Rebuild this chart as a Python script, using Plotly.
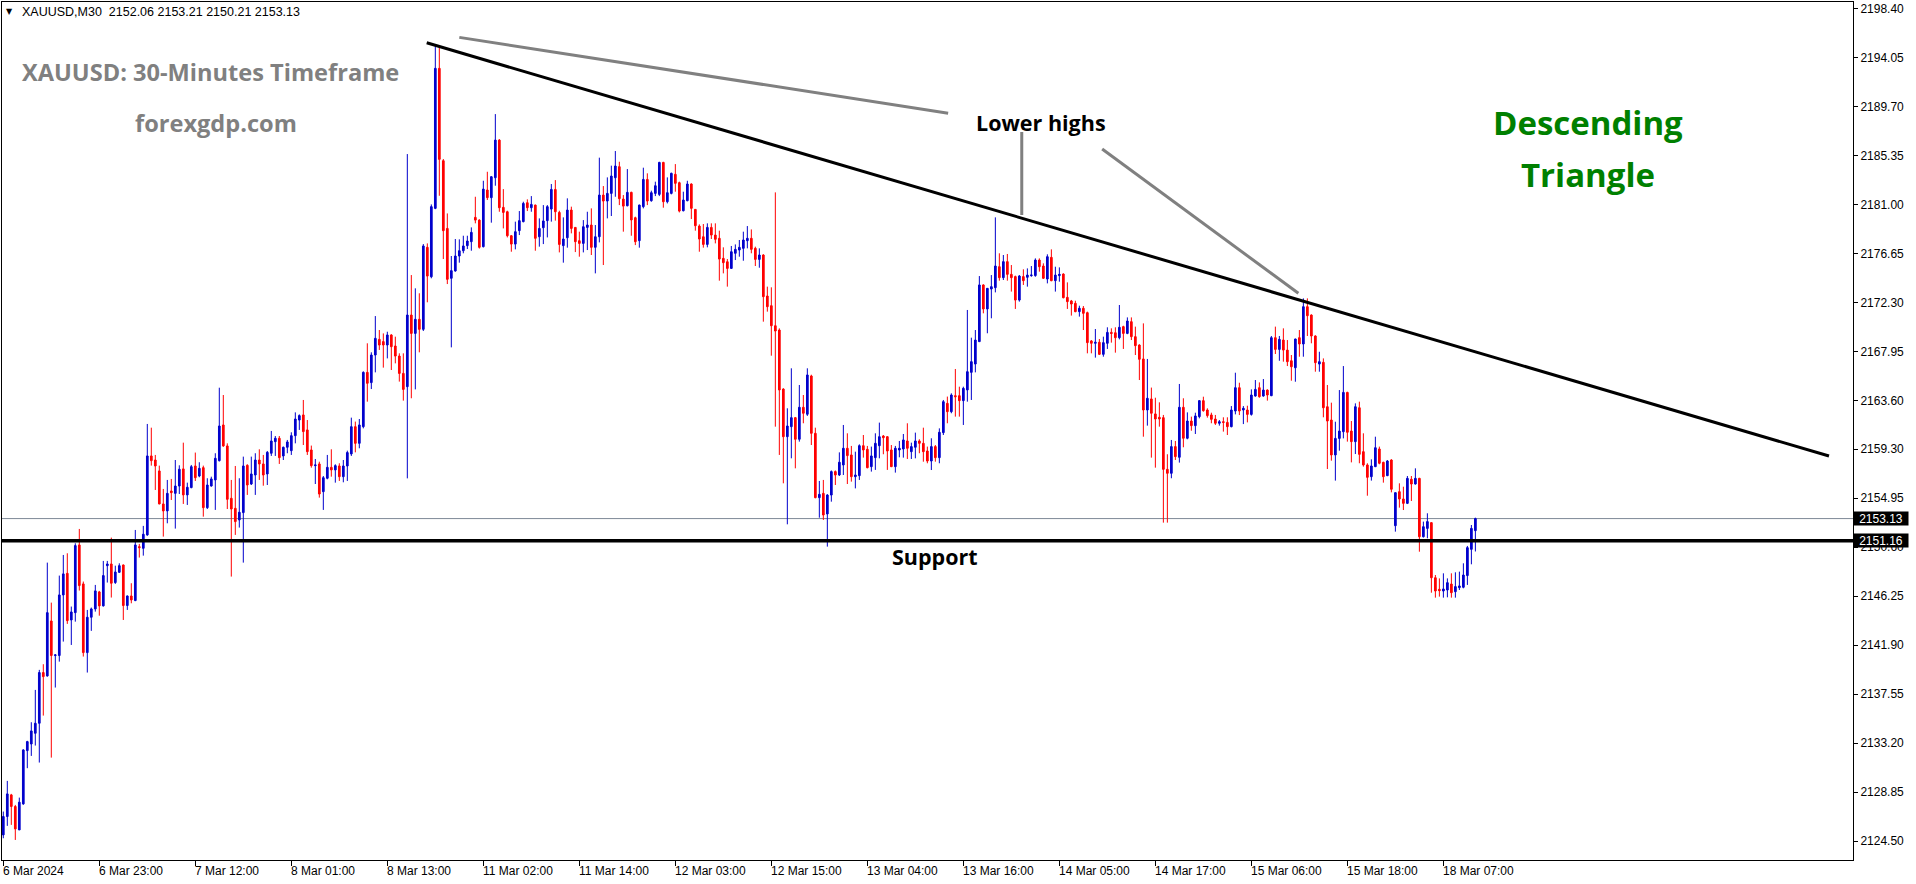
import plotly.graph_objects as go

# ---------------- data (XAUUSD M30 candles) ----------------
OPEN = [
    2125.05, 2126.68, 2128.60, 2127.57, 2125.49, 2127.80, 2132.53, 2133.12, 2134.07, 2134.96,
    2139.46, 2139.16, 2144.04, 2140.97, 2140.97, 2146.35, 2148.27, 2144.13, 2144.78, 2150.79,
    2147.33, 2141.23, 2144.37, 2145.11, 2146.62, 2145.38, 2148.95, 2149.10, 2147.45, 2148.36,
    2149.01, 2145.41, 2146.26, 2145.85, 2150.64, 2150.49, 2151.68, 2158.69, 2158.33, 2157.36,
    2154.43, 2153.81, 2155.58, 2155.37, 2156.02, 2157.54, 2155.23, 2155.88, 2157.80, 2156.91,
    2157.65, 2154.10, 2156.02, 2156.56, 2158.27, 2161.44, 2159.58, 2154.93, 2154.04, 2153.01,
    2153.66, 2157.86, 2156.20, 2157.00, 2158.33, 2157.98, 2157.09, 2158.93, 2159.96, 2160.26,
    2158.69, 2159.46, 2159.16, 2160.49, 2161.88, 2162.33, 2161.00, 2159.22, 2157.83, 2157.98,
    2155.52, 2156.71, 2157.68, 2157.45, 2157.80, 2156.85, 2157.80, 2158.87, 2161.29, 2159.81,
    2161.29, 2166.11, 2165.20, 2167.65, 2169.04, 2168.84, 2168.54, 2169.43, 2168.45, 2167.56,
    2166.02, 2164.84, 2171.20, 2169.57, 2170.82, 2169.93, 2177.21, 2174.60, 2180.67, 2193.10,
    2184.90, 2178.89, 2174.46, 2175.11, 2176.44, 2176.91, 2177.36, 2177.71, 2179.87, 2179.63,
    2177.27, 2182.30, 2181.62, 2183.39, 2186.73, 2180.76, 2180.37, 2178.24, 2177.50, 2178.69,
    2179.49, 2181.17, 2180.73, 2180.96, 2178.15, 2178.95, 2179.58, 2180.61, 2182.35, 2180.31,
    2177.36, 2178.06, 2180.52, 2178.98, 2177.80, 2177.56, 2178.98, 2179.19, 2177.21, 2178.15,
    2181.85, 2181.32, 2182.00, 2183.39, 2184.37, 2181.50, 2180.90, 2182.09, 2179.84, 2177.80,
    2180.82, 2183.24, 2181.35, 2182.00, 2181.91, 2184.75, 2181.26, 2182.00, 2183.69, 2182.95,
    2180.46, 2181.35, 2182.83, 2180.58, 2179.10, 2178.15, 2177.47, 2178.98, 2178.30, 2178.01,
    2176.23, 2175.93, 2175.34, 2176.68, 2176.97, 2177.12, 2177.80, 2178.01, 2177.12, 2176.14,
    2176.53, 2172.89, 2172.03, 2170.25, 2169.87, 2164.63, 2160.40, 2161.29, 2162.09, 2160.17,
    2163.01, 2162.39, 2165.79, 2160.70, 2154.99, 2155.37, 2153.54, 2155.22, 2157.30, 2157.00,
    2157.89, 2159.37, 2158.78, 2156.85, 2156.94, 2159.60, 2159.28, 2157.74, 2158.54, 2159.60,
    2160.46, 2160.40, 2159.22, 2157.74, 2159.22, 2159.31, 2160.02, 2159.07, 2159.46, 2160.02,
    2159.81, 2159.13, 2158.24, 2159.52, 2158.54, 2160.76, 2163.36, 2162.62, 2164.04, 2164.04,
    2163.60, 2164.55, 2166.11, 2166.85, 2168.84, 2173.87, 2171.74, 2173.51, 2173.63, 2175.49,
    2174.52, 2175.94, 2174.81, 2174.61, 2172.53, 2174.61, 2174.55, 2174.70, 2174.70, 2176.08,
    2175.55, 2174.40, 2176.32, 2174.25, 2174.70, 2174.84, 2172.77, 2172.45, 2172.24, 2171.50,
    2171.80, 2171.41, 2168.90, 2168.69, 2168.78, 2167.71, 2168.69, 2169.66, 2169.63, 2169.19,
    2170.17, 2169.57, 2170.61, 2169.28, 2168.54, 2167.30, 2162.77, 2163.75, 2162.42, 2162.12,
    2162.09, 2157.50, 2157.15, 2159.52, 2158.57, 2163.01, 2160.26, 2161.79, 2161.38, 2162.18,
    2163.60, 2162.77, 2162.33, 2161.97, 2161.59, 2161.73, 2161.67, 2161.29, 2162.68, 2164.75,
    2162.77, 2162.77, 2162.38, 2164.01, 2164.75, 2164.01, 2164.54, 2164.04, 2169.19, 2168.15,
    2168.98, 2168.09, 2167.14, 2166.52, 2169.19, 2168.63, 2171.94, 2171.20, 2169.34, 2166.85,
    2167.00, 2163.06, 2161.88, 2158.78, 2160.25, 2160.84, 2164.33, 2160.90, 2159.96, 2162.97,
    2159.07, 2157.89, 2156.85, 2157.74, 2159.31, 2158.12, 2156.94, 2158.33, 2152.50, 2155.52,
    2154.87, 2154.48, 2156.62, 2156.20, 2156.70, 2151.52, 2152.26, 2152.77, 2147.88, 2146.85,
    2146.70, 2146.79, 2147.32, 2146.64, 2147.00, 2147.03, 2148.07, 2150.40, 2152.06,
]

HIGH = [
    2127.12, 2129.84, 2128.69, 2127.71, 2128.36, 2132.65, 2133.40, 2135.05, 2137.92, 2139.70,
    2140.20, 2149.22, 2145.67, 2141.10, 2148.07, 2149.90, 2150.05, 2145.32, 2150.94, 2152.21,
    2147.54, 2145.02, 2145.23, 2147.24, 2146.71, 2149.37, 2149.37, 2151.44, 2148.95, 2149.16,
    2149.05, 2146.30, 2147.39, 2152.12, 2150.88, 2152.48, 2161.53, 2161.20, 2158.78, 2157.83,
    2155.76, 2156.56, 2156.65, 2158.33, 2157.86, 2159.87, 2156.32, 2157.89, 2158.99, 2158.13,
    2157.83, 2156.71, 2156.85, 2158.93, 2164.75, 2164.10, 2159.81, 2156.56, 2157.80, 2156.71,
    2158.63, 2157.95, 2158.63, 2158.93, 2159.28, 2158.78, 2159.13, 2160.91, 2160.46, 2160.46,
    2159.52, 2160.11, 2160.79, 2162.56, 2162.38, 2163.66, 2161.88, 2159.61, 2158.42, 2158.18,
    2156.91, 2158.78, 2159.28, 2157.95, 2158.04, 2158.33, 2159.16, 2162.09, 2161.74, 2161.97,
    2166.20, 2168.69, 2167.89, 2171.11, 2169.87, 2169.57, 2169.72, 2169.50, 2169.28, 2167.80,
    2167.80, 2185.49, 2174.75, 2173.57, 2173.13, 2177.50, 2177.56, 2181.02, 2195.17, 2195.17,
    2185.05, 2180.22, 2176.44, 2177.95, 2177.92, 2178.24, 2178.24, 2178.98, 2181.70, 2179.70,
    2183.12, 2183.92, 2183.54, 2189.04, 2186.82, 2182.38, 2180.46, 2178.30, 2179.49, 2180.43,
    2181.26, 2181.47, 2181.76, 2181.00, 2179.78, 2180.96, 2180.96, 2182.83, 2183.18, 2180.46,
    2179.87, 2181.56, 2180.82, 2179.00, 2178.60, 2179.63, 2180.37, 2180.67, 2179.19, 2185.17,
    2182.65, 2183.42, 2184.46, 2185.76, 2184.81, 2181.85, 2184.16, 2182.15, 2179.93, 2181.00,
    2184.28, 2183.78, 2182.24, 2183.04, 2184.80, 2184.80, 2183.42, 2183.84, 2184.60, 2183.04,
    2182.15, 2183.12, 2182.89, 2180.60, 2179.25, 2179.28, 2179.34, 2179.34, 2179.34, 2178.69,
    2177.21, 2176.17, 2177.33, 2177.47, 2177.86, 2178.60, 2179.10, 2178.80, 2177.27, 2177.12,
    2176.60, 2173.72, 2173.66, 2182.09, 2170.02, 2164.70, 2162.92, 2166.47, 2162.15, 2164.99,
    2164.10, 2166.47, 2165.90, 2161.20, 2156.47, 2156.56, 2155.30, 2157.40, 2157.40, 2159.01,
    2161.44, 2160.70, 2159.58, 2159.07, 2159.72, 2160.55, 2159.58, 2159.52, 2160.70, 2161.65,
    2160.55, 2160.45, 2159.66, 2159.58, 2160.02, 2160.64, 2161.59, 2159.87, 2160.76, 2160.17,
    2161.20, 2159.52, 2160.26, 2159.66, 2161.14, 2163.66, 2163.96, 2164.25, 2166.41, 2164.84,
    2164.84, 2171.65, 2169.19, 2169.87, 2174.66, 2173.93, 2173.60, 2174.75, 2179.87, 2176.68,
    2176.53, 2176.62, 2175.64, 2174.70, 2174.75, 2175.26, 2175.34, 2175.55, 2176.23, 2176.23,
    2175.79, 2176.59, 2177.03, 2175.49, 2175.43, 2174.90, 2174.10, 2172.54, 2172.47, 2172.03,
    2172.00, 2171.50, 2168.98, 2169.96, 2169.07, 2169.28, 2170.11, 2170.02, 2170.11, 2172.09,
    2170.25, 2170.99, 2170.99, 2170.17, 2168.60, 2170.46, 2167.30, 2164.76, 2163.86, 2163.45,
    2162.33, 2158.84, 2160.11, 2160.02, 2165.08, 2163.81, 2162.56, 2162.18, 2162.53, 2163.65,
    2163.95, 2162.92, 2162.53, 2162.33, 2161.88, 2162.12, 2162.12, 2163.12, 2166.08, 2165.19,
    2163.12, 2163.15, 2164.60, 2165.43, 2165.22, 2165.52, 2164.60, 2169.34, 2170.17, 2169.34,
    2170.02, 2168.98, 2167.65, 2169.10, 2169.87, 2172.68, 2172.68, 2171.26, 2169.40, 2167.94,
    2167.35, 2164.99, 2163.42, 2161.73, 2164.54, 2166.67, 2164.39, 2161.79, 2163.36, 2163.51,
    2160.70, 2158.04, 2158.39, 2160.40, 2159.52, 2158.18, 2158.33, 2158.40, 2155.45, 2156.26,
    2155.96, 2156.91, 2156.91, 2157.59, 2156.75, 2152.86, 2153.60, 2152.80, 2148.12, 2147.82,
    2148.27, 2147.82, 2148.27, 2148.36, 2148.42, 2149.16, 2150.70, 2152.56, 2153.21,
]

LOW = [
    2124.75, 2125.85, 2125.94, 2124.60, 2125.49, 2127.72, 2130.97, 2132.06, 2132.98, 2131.47,
    2135.64, 2139.10, 2131.91, 2138.13, 2140.43, 2142.21, 2143.78, 2141.91, 2143.98, 2146.74,
    2140.88, 2139.46, 2143.16, 2144.87, 2144.51, 2145.32, 2147.45, 2146.12, 2147.33, 2148.30,
    2144.13, 2145.02, 2145.61, 2145.80, 2149.67, 2149.84, 2151.60, 2157.83, 2155.67, 2154.40,
    2151.53, 2152.71, 2154.78, 2152.24, 2155.31, 2154.43, 2154.34, 2155.82, 2156.47, 2156.80,
    2153.30, 2153.98, 2155.97, 2153.90, 2158.20, 2159.50, 2153.98, 2147.98, 2151.68, 2152.33,
    2149.22, 2155.23, 2156.11, 2155.23, 2156.56, 2156.05, 2156.11, 2158.69, 2158.69, 2157.98,
    2158.33, 2158.93, 2158.78, 2159.81, 2161.00, 2159.66, 2158.78, 2157.65, 2156.20, 2154.99,
    2153.90, 2156.62, 2156.85, 2156.32, 2156.47, 2156.35, 2156.47, 2158.69, 2159.01, 2159.37,
    2161.14, 2163.51, 2164.63, 2166.11, 2168.10, 2166.53, 2167.35, 2166.32, 2166.91, 2165.29,
    2163.60, 2156.70, 2163.81, 2164.60, 2167.89, 2169.78, 2172.33, 2174.46, 2180.60, 2181.79,
    2176.17, 2173.95, 2168.33, 2175.05, 2175.85, 2176.68, 2177.06, 2176.91, 2179.34, 2177.10,
    2177.20, 2181.41, 2179.40, 2182.68, 2180.37, 2178.89, 2178.09, 2176.82, 2177.03, 2178.30,
    2179.43, 2180.43, 2180.37, 2176.91, 2177.27, 2177.50, 2178.09, 2179.49, 2179.58, 2176.76,
    2175.85, 2177.18, 2178.45, 2176.79, 2176.38, 2176.76, 2176.97, 2176.53, 2174.90, 2177.65,
    2175.64, 2179.78, 2179.99, 2181.70, 2180.96, 2178.60, 2180.85, 2178.24, 2177.41, 2177.18,
    2180.67, 2180.96, 2181.26, 2181.76, 2181.76, 2180.73, 2181.11, 2181.91, 2182.15, 2180.31,
    2180.40, 2181.30, 2179.72, 2178.69, 2176.82, 2177.18, 2177.21, 2177.95, 2177.56, 2174.25,
    2174.90, 2173.72, 2175.30, 2176.08, 2176.38, 2176.02, 2177.12, 2176.68, 2175.55, 2175.40,
    2170.61, 2171.50, 2167.59, 2161.29, 2158.78, 2156.26, 2152.62, 2158.48, 2157.59, 2159.96,
    2161.59, 2162.24, 2159.66, 2154.93, 2153.21, 2153.01, 2150.64, 2154.63, 2156.11, 2156.91,
    2157.00, 2156.20, 2156.41, 2155.81, 2156.56, 2158.54, 2157.59, 2157.30, 2157.45, 2158.48,
    2158.84, 2157.45, 2157.70, 2157.21, 2158.57, 2158.54, 2158.42, 2158.42, 2158.48, 2158.93,
    2158.18, 2158.04, 2157.44, 2158.18, 2158.04, 2160.55, 2161.59, 2162.48, 2162.18, 2162.18,
    2161.44, 2163.51, 2163.66, 2166.11, 2168.80, 2171.35, 2169.58, 2170.91, 2173.21, 2174.25,
    2174.31, 2174.25, 2173.28, 2171.74, 2172.39, 2173.87, 2173.72, 2174.60, 2174.60, 2175.05,
    2174.40, 2174.01, 2174.20, 2173.28, 2174.16, 2172.68, 2171.74, 2171.15, 2171.45, 2171.06,
    2169.87, 2167.80, 2167.80, 2167.42, 2167.65, 2167.50, 2168.19, 2168.75, 2167.86, 2169.04,
    2168.19, 2169.50, 2168.98, 2167.65, 2165.43, 2160.40, 2161.38, 2158.54, 2157.65, 2161.29,
    2152.77, 2152.77, 2156.71, 2158.33, 2158.10, 2159.46, 2160.17, 2160.93, 2160.64, 2162.03,
    2162.62, 2162.09, 2161.59, 2161.44, 2161.38, 2160.85, 2160.55, 2161.23, 2162.38, 2162.32,
    2161.52, 2161.67, 2162.27, 2163.95, 2163.86, 2163.95, 2163.60, 2164.00, 2167.74, 2167.14,
    2167.06, 2166.67, 2165.37, 2165.28, 2167.50, 2167.50, 2169.34, 2168.69, 2166.17, 2166.17,
    2162.12, 2157.53, 2158.27, 2156.50, 2159.16, 2160.25, 2159.96, 2158.12, 2158.86, 2158.04,
    2157.74, 2155.16, 2156.50, 2157.70, 2157.95, 2156.32, 2156.90, 2155.46, 2151.97, 2154.10,
    2153.89, 2154.42, 2154.69, 2156.15, 2150.19, 2151.45, 2151.38, 2146.55, 2146.11, 2146.20,
    2146.11, 2146.14, 2146.11, 2146.11, 2146.79, 2146.94, 2147.24, 2149.07, 2150.21,
]

CLOSE = [
    2126.68, 2128.69, 2127.57, 2125.58, 2127.95, 2132.59, 2133.33, 2134.28, 2134.96, 2139.46,
    2139.10, 2144.78, 2140.97, 2141.03, 2146.35, 2148.22, 2144.07, 2144.84, 2150.73, 2147.18,
    2141.23, 2144.37, 2145.11, 2146.71, 2145.38, 2148.07, 2149.10, 2147.39, 2148.39, 2148.95,
    2145.41, 2146.26, 2145.91, 2150.79, 2150.55, 2151.74, 2158.69, 2158.27, 2157.80, 2154.43,
    2153.81, 2155.37, 2155.43, 2156.02, 2157.51, 2155.23, 2155.91, 2157.74, 2156.76, 2157.59,
    2154.10, 2156.11, 2156.65, 2158.48, 2161.35, 2159.58, 2154.84, 2153.98, 2152.86, 2153.69,
    2157.80, 2156.11, 2157.09, 2158.33, 2157.98, 2157.00, 2159.01, 2160.02, 2160.26, 2158.54,
    2159.46, 2159.93, 2160.49, 2161.97, 2162.27, 2160.85, 2159.07, 2157.83, 2157.89, 2155.31,
    2156.76, 2157.68, 2157.45, 2157.83, 2156.85, 2157.80, 2158.99, 2161.29, 2159.81, 2161.44,
    2166.11, 2165.14, 2167.65, 2169.13, 2168.54, 2168.54, 2169.43, 2168.39, 2167.56, 2166.02,
    2164.60, 2171.20, 2169.57, 2170.82, 2169.93, 2177.33, 2174.66, 2180.82, 2193.10, 2185.02,
    2178.69, 2174.37, 2175.14, 2176.44, 2176.91, 2177.33, 2177.77, 2178.54, 2179.63, 2177.21,
    2182.38, 2181.62, 2183.48, 2186.73, 2180.73, 2180.31, 2178.24, 2177.50, 2178.60, 2179.58,
    2181.11, 2180.73, 2181.02, 2178.01, 2178.89, 2179.55, 2180.82, 2182.35, 2180.37, 2177.47,
    2177.95, 2180.52, 2178.89, 2177.71, 2177.56, 2179.04, 2179.19, 2177.21, 2178.15, 2181.85,
    2181.32, 2182.00, 2183.54, 2184.43, 2181.53, 2180.87, 2182.09, 2179.64, 2177.71, 2180.96,
    2183.24, 2181.32, 2182.06, 2182.68, 2184.75, 2181.26, 2182.06, 2183.78, 2182.89, 2180.43,
    2181.41, 2182.83, 2180.67, 2179.13, 2177.95, 2177.47, 2178.98, 2178.30, 2177.92, 2176.17,
    2175.85, 2175.34, 2176.82, 2177.03, 2177.21, 2177.86, 2178.01, 2177.03, 2176.14, 2176.53,
    2172.83, 2171.94, 2170.25, 2169.78, 2164.55, 2160.40, 2161.35, 2162.09, 2160.17, 2163.01,
    2162.48, 2165.88, 2160.70, 2154.99, 2155.28, 2153.45, 2155.22, 2157.30, 2157.00, 2158.13,
    2159.37, 2158.72, 2156.85, 2157.00, 2159.60, 2159.22, 2157.65, 2158.69, 2159.81, 2160.40,
    2160.31, 2159.13, 2157.74, 2159.37, 2159.37, 2160.11, 2159.37, 2159.52, 2160.02, 2159.81,
    2159.07, 2158.24, 2159.52, 2158.54, 2160.79, 2163.51, 2162.62, 2164.10, 2163.95, 2163.60,
    2164.69, 2166.17, 2167.06, 2168.98, 2173.87, 2171.74, 2173.57, 2173.72, 2175.55, 2174.52,
    2175.94, 2174.81, 2174.52, 2172.53, 2174.66, 2174.25, 2174.75, 2174.75, 2176.08, 2175.49,
    2174.46, 2176.38, 2174.25, 2174.75, 2174.81, 2172.74, 2172.39, 2172.18, 2171.50, 2171.80,
    2171.35, 2168.75, 2168.69, 2168.78, 2167.71, 2168.75, 2169.66, 2169.57, 2169.19, 2170.11,
    2169.57, 2170.67, 2169.28, 2168.48, 2167.27, 2162.77, 2163.81, 2162.48, 2161.97, 2161.97,
    2157.50, 2157.15, 2159.52, 2158.63, 2163.01, 2160.26, 2161.79, 2161.38, 2162.24, 2163.60,
    2162.71, 2162.27, 2161.94, 2161.59, 2161.73, 2161.67, 2161.29, 2162.77, 2164.75, 2162.68,
    2162.92, 2162.38, 2164.10, 2164.60, 2163.95, 2164.54, 2164.10, 2169.19, 2168.15, 2169.04,
    2168.09, 2167.06, 2166.61, 2169.07, 2168.63, 2171.94, 2171.14, 2169.34, 2166.97, 2167.06,
    2162.97, 2161.79, 2158.78, 2160.25, 2160.90, 2164.33, 2160.79, 2159.96, 2163.06, 2158.83,
    2157.89, 2156.79, 2157.80, 2159.42, 2158.04, 2156.85, 2158.24, 2155.73, 2155.43, 2154.87,
    2154.48, 2156.70, 2156.20, 2156.70, 2151.52, 2152.41, 2152.86, 2147.88, 2146.70, 2146.73,
    2146.88, 2147.44, 2146.55, 2147.09, 2147.15, 2148.12, 2150.55, 2152.26, 2153.13,
]

X_TICK_BARS = [0, 24, 48, 72, 96, 120, 144, 168, 192, 216, 240, 264, 288, 312, 336, 360]
X_TICK_LABELS = ["6 Mar 2024", "6 Mar 23:00", "7 Mar 12:00", "8 Mar 01:00", "8 Mar 13:00",
                 "11 Mar 02:00", "11 Mar 14:00", "12 Mar 03:00", "12 Mar 15:00", "13 Mar 04:00",
                 "13 Mar 16:00", "14 Mar 05:00", "14 Mar 17:00", "15 Mar 06:00", "15 Mar 18:00",
                 "18 Mar 07:00"]
Y_TICK_LABELS = ["2124.50", "2128.85", "2133.20", "2137.55", "2141.90", "2146.25", "2150.60",
                 "2154.95", "2159.30", "2163.60", "2167.95", "2172.30", "2176.65", "2181.00",
                 "2185.35", "2189.70", "2194.05", "2198.40"]

SUPPORT_LEVEL = 2151.16
LAST_PRICE = 2153.13
TRENDLINE = ((105.85, 2195.37), (456.4, 2158.68))
LOWER_HIGH_LINKS = [((114.0, 2195.85), (236.2, 2189.12)),
                    ((254.6, 2187.45), (254.6, 2180.08)),
                    ((274.7, 2185.94), (323.75, 2173.13))]

# ---------------- layout constants ----------------
W, H = 1916, 884
PL, PR, PT, PB = 2, 1853, 2, 860
X_RANGE = [-0.325, 462.4]
Y_RANGE = [2122.82, 2198.99]
BLUE = "#0000CC"
RED = "#FF0000"
GRAY = "#808080"
GREEN = "#008000"


def fx(p):
    return (p - PL) / (PR - PL)


def fy(p):
    return 1 - (p - PT) / (PB - PT)


# guard: keep high/low consistent with body
HIGH_ADJ = [max(h, o, c) for h, o, c in zip(HIGH, OPEN, CLOSE)]
LOW_ADJ = [min(l, o, c) for l, o, c in zip(LOW, OPEN, CLOSE)]
BARS = list(range(len(OPEN)))

fig = go.Figure()
fig.add_trace(go.Candlestick(
    x=BARS, open=OPEN, high=HIGH_ADJ, low=LOW_ADJ, close=CLOSE,
    increasing=dict(line=dict(color=BLUE, width=1), fillcolor=BLUE),
    decreasing=dict(line=dict(color=RED, width=1), fillcolor=RED),
    whiskerwidth=0, hoverinfo="skip", showlegend=False,
))

shapes = []
shapes.append(dict(type="line", xref="paper", x0=0, x1=1, yref="y", y0=LAST_PRICE, y1=LAST_PRICE,
                   line=dict(color="#7d8896", width=1), layer="below"))
shapes.append(dict(type="line", xref="paper", x0=0, x1=1, yref="y", y0=SUPPORT_LEVEL, y1=SUPPORT_LEVEL,
                   line=dict(color="black", width=3.5)))
(tx0, ty0), (tx1, ty1) = TRENDLINE
shapes.append(dict(type="line", xref="x", yref="y", x0=tx0, y0=ty0, x1=tx1, y1=ty1,
                   line=dict(color="black", width=3)))
for (ax0, ay0), (ax1, ay1) in LOWER_HIGH_LINKS:
    shapes.append(dict(type="line", xref="x", yref="y", x0=ax0, y0=ay0, x1=ax1, y1=ay1,
                       line=dict(color=GRAY, width=3)))

ann = []
AX_FONT = dict(family="Liberation Sans, Arial, sans-serif", size=12, color="black")
for b, lab in zip(X_TICK_BARS, X_TICK_LABELS):
    ann.append(dict(x=b, xref="x", y=0, yref="paper", text=lab, showarrow=False,
                    xanchor="left", yanchor="top", xshift=-2, yshift=-2, font=AX_FONT))

ann.append(dict(x=fx(9), y=fy(11), xref="paper", yref="paper", text="▼", showarrow=False,
                xanchor="center", yanchor="middle",
                font=dict(family="DejaVu Sans", size=8, color="black")))
ann.append(dict(x=fx(20), y=fy(12), xref="paper", yref="paper",
                text="XAUUSD,M30\u00a0\u00a0" + " ".join(f"{v:.2f}" for v in (OPEN[-1], HIGH[-1], LOW[-1], CLOSE[-1])),
                showarrow=False, xanchor="left", yanchor="middle",
                font=dict(family="Liberation Sans, Arial, sans-serif", size=12.5, color="black")))

BIG = "Open Sans, sans-serif"
ann.append(dict(x=fx(20), y=fy(72), xref="paper", yref="paper", text="<b>XAUUSD: 30-Minutes Timeframe</b>",
                showarrow=False, xanchor="left", yanchor="middle", font=dict(family=BIG, size=23.6, color=GRAY)))
ann.append(dict(x=fx(216), y=fy(123), xref="paper", yref="paper", text="<b>forexgdp.com</b>",
                showarrow=False, xanchor="center", yanchor="middle", font=dict(family=BIG, size=23.6, color=GRAY)))
ann.append(dict(x=fx(1041), y=fy(122), xref="paper", yref="paper", text="<b>Lower highs</b>",
                showarrow=False, xanchor="center", yanchor="middle", font=dict(family=BIG, size=21.5, color="black")))
ann.append(dict(x=fx(935), y=fy(556), xref="paper", yref="paper", text="<b>Support</b>",
                showarrow=False, xanchor="center", yanchor="middle", font=dict(family=BIG, size=21.5, color="black")))
ann.append(dict(x=fx(1588), y=fy(123), xref="paper", yref="paper", text="<b>Descending</b>",
                showarrow=False, xanchor="center", yanchor="middle", font=dict(family=BIG, size=33, color=GREEN)))
ann.append(dict(x=fx(1588), y=fy(174), xref="paper", yref="paper", text="<b>Triangle</b>",
                showarrow=False, xanchor="center", yanchor="middle", font=dict(family=BIG, size=33, color=GREEN)))

for val in (LAST_PRICE, SUPPORT_LEVEL):
    ann.append(dict(x=1, xref="paper", y=val, yref="y", text=f"{val:.2f}", showarrow=False,
                    xanchor="left", yanchor="middle", xshift=0, bgcolor="black", borderpad=1,
                    width=52, height=11, align="center",
                    font=dict(family="Liberation Sans, Arial, sans-serif", size=12, color="white")))

fig.update_layout(
    width=W, height=H,
    margin=dict(l=PL, r=W - PR, t=PT, b=H - PB, pad=0),
    paper_bgcolor="white", plot_bgcolor="white",
    showlegend=False, boxgap=0.4,
    shapes=shapes, annotations=ann,
    xaxis=dict(range=X_RANGE, showgrid=False, zeroline=False, showline=True, linecolor="black",
               linewidth=1, mirror=True, ticks="outside", ticklen=5, tickcolor="black",
               tickvals=X_TICK_BARS, showticklabels=False, rangeslider=dict(visible=False),
               fixedrange=True),
    yaxis=dict(range=Y_RANGE, side="right", showgrid=False, zeroline=False, showline=True,
               linecolor="black", linewidth=1, mirror=True, ticks="outside", ticklen=4,
               tickcolor="black", tickvals=[float(v) for v in Y_TICK_LABELS], ticktext=Y_TICK_LABELS,
               tickfont=AX_FONT, fixedrange=True),
)

fig.write_html("out.html")
